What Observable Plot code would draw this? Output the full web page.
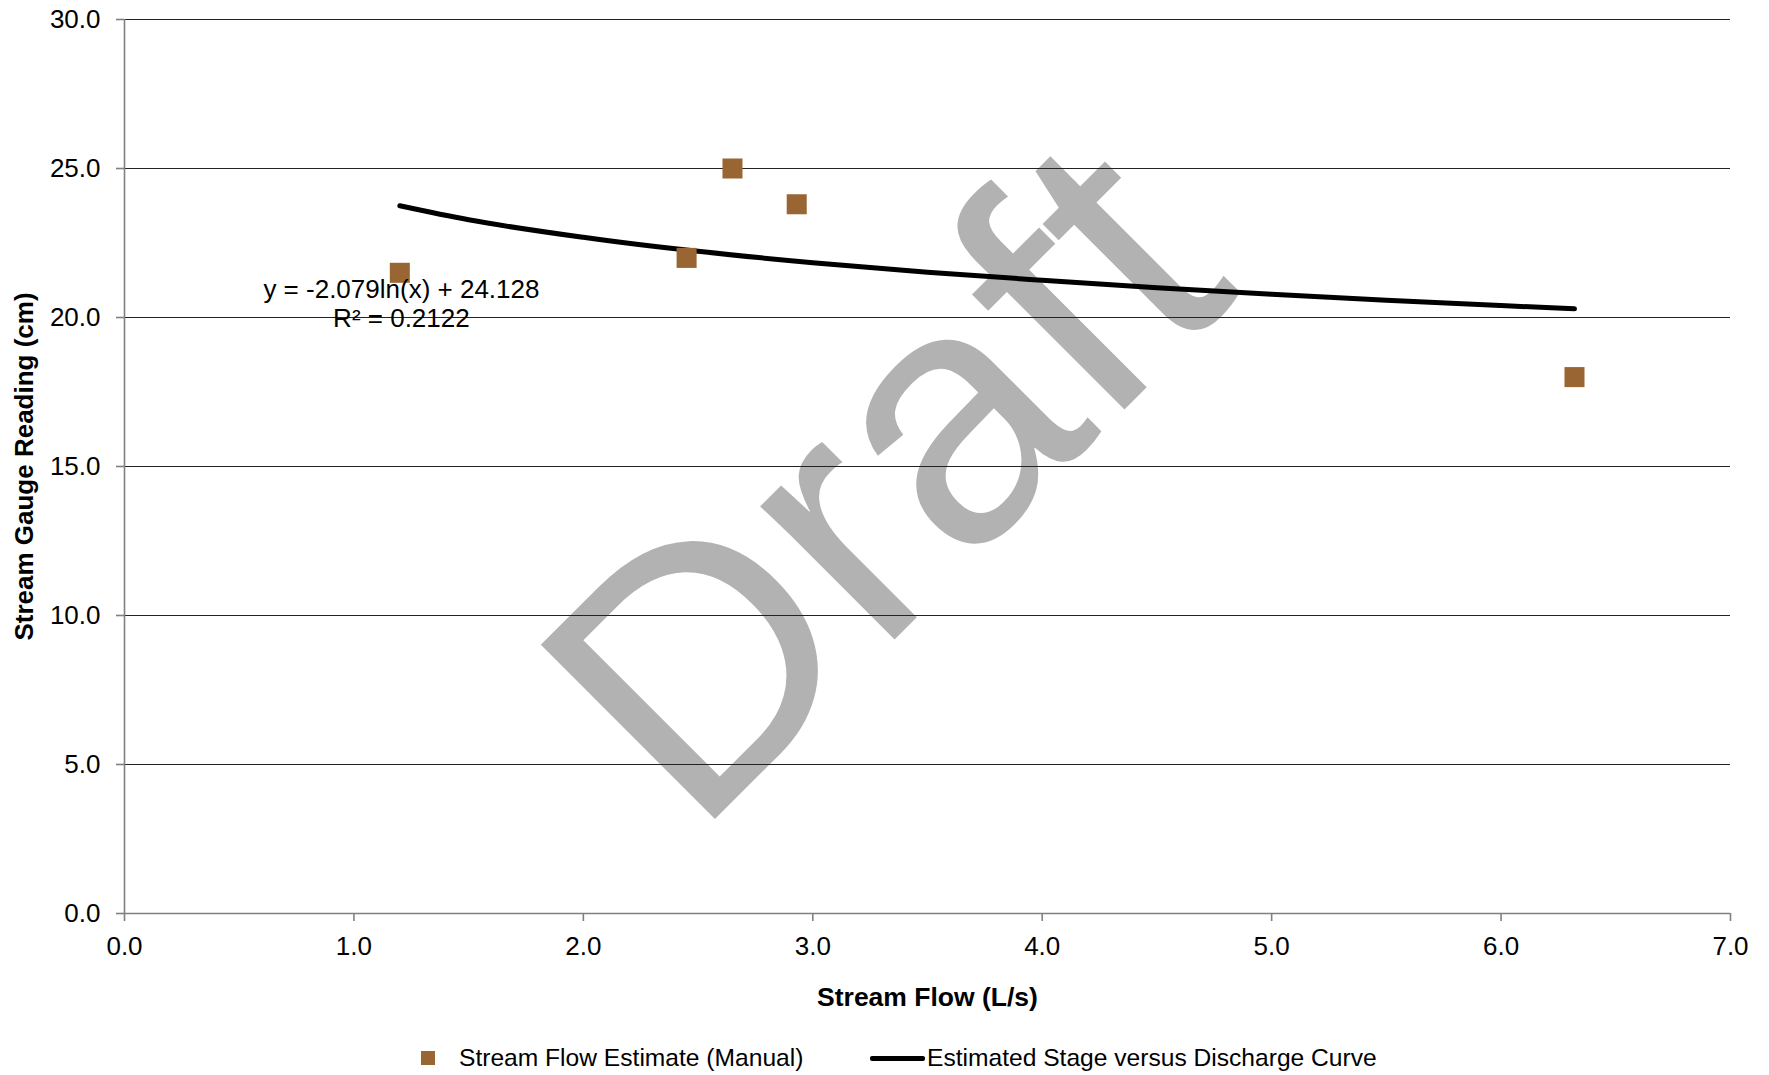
<!DOCTYPE html>
<html>
<head>
<meta charset="utf-8">
<script src="https://cdn.jsdelivr.net/npm/d3@7"></script>
<script src="https://cdn.jsdelivr.net/npm/@observablehq/plot@0.6"></script>
<style>
  html, body { margin: 0; padding: 0; background: #fff; }
  body { width: 1769px; height: 1075px; overflow: hidden; font-family: "Liberation Sans", Arial, sans-serif; }
  #legend { position: relative; width: 1769px; height: 45px; font-size: 24.6px; color: #000; }
  #legend .sq { position: absolute; left: 421px; top: 21px; width: 14px; height: 14px; background: #996633; }
  #legend .ln { position: absolute; left: 870px; top: 26px; width: 55px; height: 4.5px; background: #000; border-radius: 2px; }
  #legend .t1 { position: absolute; left: 459px; top: 14px; line-height: 28px; white-space: nowrap; }
  #legend .t2 { position: absolute; left: 927px; top: 14px; line-height: 28px; white-space: nowrap; }
</style>
</head>
<body>
<div id="chart"></div>
<div id="legend">
  <div class="sq"></div><div class="t1">Stream Flow Estimate (Manual)</div>
  <div class="ln"></div><div class="t2">Estimated Stage versus Discharge Curve</div>
</div>
<script>
// Measured stream flow (L/s) and stream gauge reading (cm)
const flow = [1.2, 2.45, 2.65, 2.93, 6.32];
const gauge = [21.5, 22.0, 25.0, 23.8, 18.0];

// Trend curve
const curveFlow = [1.2, 1.5, 2.0, 2.5, 3.0, 3.5, 4.0, 4.5, 5.0, 5.5, 6.0, 6.32];
const curveGauge = [23.75, 23.28, 22.69, 22.22, 21.84, 21.52, 21.25, 21.0, 20.78, 20.58, 20.40, 20.29];

// Tick values
const xTicks = [0, 1, 2, 3, 4, 5, 6, 7];
const yTicks = [0, 5, 10, 15, 20, 25, 30];

// Trend annotation text
const annText = ["y = -2.079ln(x) + 24.128", "R² = 0.2122"];
const annX = [1.207, 1.207];
const annY = [20.94, 19.97];

const points = flow.map((x, i) => ({x, y: gauge[i]}));
const curve = curveFlow.map((x, i) => ({x, y: curveGauge[i]}));
const ann = annText.map((t, i) => ({t, x: annX[i], y: annY[i]}));

const FONT = "Liberation Sans, Arial, sans-serif";
const fmt = d3.format(".1f");

const chart = Plot.plot({
  width: 1769,
  height: 1030,
  marginLeft: 124,
  marginRight: 39,
  marginTop: 19,
  marginBottom: 117,
  style: {fontFamily: FONT, fontSize: "26px", color: "#000", background: "#fff"},
  x: {domain: [0, 7]},
  y: {domain: [0, 30]},
  marks: [
    Plot.text(["Draft"], {
      frameAnchor: "middle", dx: -40, dy: 18, rotate: -45,
      fontSize: 358, fill: "#b2b2b2", fontFamily: FONT, lineAnchor: "middle", textAnchor: "middle"
    }),
    Plot.gridY(yTicks.filter(d => d > 0), {stroke: "#222", strokeOpacity: 1, strokeWidth: 1}),
    Plot.ruleY([0], {stroke: "#808080", strokeWidth: 1.6}),
    Plot.ruleX([0], {stroke: "#808080", strokeWidth: 1.6}),
    Plot.axisY({
      ticks: yTicks, tickSize: 8, tickPadding: 16, tickFormat: fmt, label: null,
      stroke: "#808080", strokeWidth: 1.6, fill: "#000", fontSize: 26
    }),
    Plot.axisX({
      ticks: xTicks, tickSize: 8, tickPadding: 15, tickFormat: fmt, label: null,
      stroke: "#808080", strokeWidth: 1.6, fill: "#000", fontSize: 26
    }),
    Plot.line(curve, {x: "x", y: "y", stroke: "#000", strokeWidth: 5, curve: "monotone-x", strokeLinecap: "round"}),
    Plot.dot(points, {x: "x", y: "y", symbol: "square", r: 11.3, fill: "#996633", stroke: "none"}),
    Plot.text(ann, {x: "x", y: "y", text: "t", fontSize: 26, fill: "#000", textAnchor: "middle", lineAnchor: "middle"}),
    Plot.text(["Stream Flow (L/s)"], {
      frameAnchor: "bottom", dy: 84, fontSize: 26.5, fontWeight: "bold", fill: "#000", lineAnchor: "middle"
    }),
    Plot.text(["Stream Gauge Reading (cm)"], {
      frameAnchor: "left", dx: -100, rotate: -90, fontSize: 26, fontWeight: "bold", fill: "#000", lineAnchor: "middle", textAnchor: "middle"
    })
  ]
});
document.getElementById("chart").appendChild(chart);
</script>
</body>
</html>
